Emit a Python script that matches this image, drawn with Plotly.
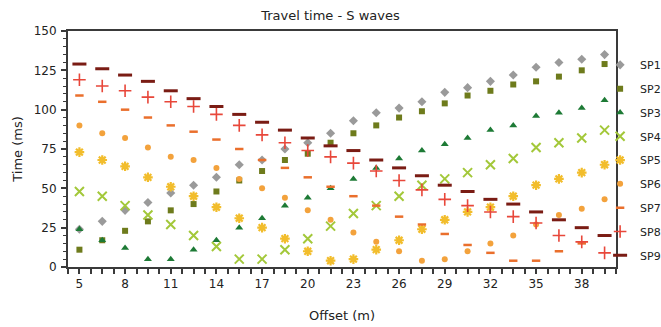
import plotly.graph_objects as go

offsets = [5, 6.5, 8, 9.5, 11, 12.5, 14, 15.5, 17, 18.5, 20, 21.5,
           23, 24.5, 26, 27.5, 29, 30.5, 32, 33.5, 35, 36.5, 38, 39.5]

sp1 = [24, 29, 36, 41, 47, 52, 57, 65, 68, 75, 79, 85, 93, 98, 101, 105, 111, 114, 118, 122, 127, 130, 132, 135]
sp2 = [11, 17, 23, 29, 36, 40, 48, 55, 61, 68, 72, 79, 85, 90, 95, 99, 104, 109, 112, 116, 118, 121, 125, 129]
sp3 = [24, 17, 12, 5, 5, 11, 17, 25, 31, 39, 44, 50, 56, 63, 69, 74, 78, 82, 87, 90, 96, 98, 101, 106]
sp4 = [48, 45, 39, 33, 27, 20, 13, 5, 5, 11, 18, 26, 34, 39, 45, 52, 56, 60, 65, 69, 76, 79, 82, 87]
sp5 = [73, 68, 64, 57, 51, 45, 38, 31, 25, 18, 10, 4, 5, 11, 17, 24, 30, 35, 38, 45, 52, 56, 60, 65]
sp6 = [90, 85, 82, 76, 70, 68, 63, 56, 50, 44, 36, 30, 22, 16, 10, 4, 5, 10, 15, 20, 27, 33, 37, 43]
sp7 = [109, 105, 100, 95, 90, 86, 81, 75, 68, 63, 57, 51, 45, 39, 32, 27, 21, 14, 9, 4, 4, 10, 15, 20]
sp8 = [119, 115, 112, 108, 105, 102, 97, 90, 84, 79, 74, 70, 66, 61, 55, 49, 43, 39, 35, 32, 28, 20, 16, 9]
sp9 = [129, 126, 122, 118, 112, 107, 102, 97, 92, 87, 82, 77, 74, 68, 63, 58, 52, 48, 43, 40, 35, 30, 25, 20]

names = ["SP1", "SP2", "SP3", "SP4", "SP5", "SP6", "SP7", "SP8", "SP9"]
series = [sp1, sp2, sp3, sp4, sp5, sp6, sp7, sp8, sp9]
x_tick_labels = [5, 8, 11, 14, 17, 20, 23, 26, 29, 32, 35, 38]
y_tick_labels = [0, 25, 50, 75, 100, 125, 150]

styles = [
    dict(symbol="diamond", size=7, color="#9a9a9a", line=dict(width=0)),
    dict(symbol="square", size=6, color="#6e7b1c", line=dict(width=0)),
    dict(symbol="triangle-up", size=7, color="#1d7a35", line=dict(width=0)),
    dict(symbol="x-thin-open", size=9, color="#a3c83a", line=dict(width=2, color="#a3c83a")),
    dict(symbol="asterisk-open", size=8, color="#f2bd2c", line=dict(width=2.2, color="#f2bd2c")),
    dict(symbol="circle", size=6, color="#f3a23c", line=dict(width=0)),
    dict(symbol="line-ew-open", size=6, color="#ea6f2c", line=dict(width=2.5, color="#ea6f2c")),
    dict(symbol="cross-thin-open", size=9, color="#e8473a", line=dict(width=1.6, color="#e8473a")),
    dict(symbol="line-ew-open", size=10, color="#7a1c14", line=dict(width=3, color="#7a1c14")),
]

fig = go.Figure()
for name, vals, st in zip(names, series, styles):
    fig.add_trace(go.Scatter(x=offsets, y=vals, mode="markers", name=name,
                             legendgroup=name, marker=st))

font_family = "DejaVu Sans, Verdana, sans-serif"
fig.update_layout(
    width=661, height=327,
    margin=dict(l=68, r=45, t=31, b=60, autoexpand=False),
    paper_bgcolor="white", plot_bgcolor="white",
    font=dict(family=font_family, size=12, color="#222222"),
    title=dict(text="Travel time - S waves", x=0.5, xref="container", xanchor="center",
               y=0.952, yref="container", yanchor="middle",
               font=dict(size=13, color="#222222")),
    showlegend=True,
    legend=dict(x=0.971, xanchor="left", y=0.918, yanchor="top",
                font=dict(size=11, color="#222222"), bgcolor="rgba(0,0,0,0)",
                tracegroupgap=4.8, itemwidth=30),
)
fig.update_xaxes(
    range=[4.25, 40.25], tickmode="array", tickvals=x_tick_labels,
    ticktext=[str(v) for v in x_tick_labels], automargin=False,
    showgrid=False, zeroline=False, showline=True, mirror=True,
    linecolor="#3a3a3a", linewidth=2, ticks="outside", ticklen=5, tickwidth=1.5,
    tickcolor="#3a3a3a", ticklabelstandoff=0,
    minor=dict(tick0=4.25, dtick=0.75, ticks="outside", ticklen=5, tickwidth=1.5, tickcolor="#3a3a3a"),
    title=dict(text="Offset (m)", font=dict(size=13), standoff=20),
    tickfont=dict(size=12),
)
fig.update_yaxes(
    range=[0, 150], tickmode="array", tickvals=y_tick_labels, automargin=False,
    showgrid=False, zeroline=False, showline=True, mirror=True,
    linecolor="#3a3a3a", linewidth=2, ticks="outside", ticklen=5, tickwidth=1.5,
    tickcolor="#3a3a3a", ticklabelstandoff=2,
    minor=dict(dtick=5, ticks="outside", ticklen=3, tickwidth=1, tickcolor="#3a3a3a"),
    title=dict(text="Time (ms)", font=dict(size=13), standoff=8),
    tickfont=dict(size=12),
)

fig.write_html("out.html", config={"displayModeBar": False},
               post_script="document.body.style.margin='0px';")
